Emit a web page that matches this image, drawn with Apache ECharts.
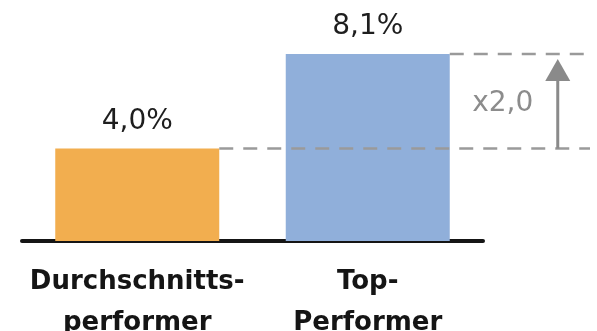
<!DOCTYPE html>
<html>
<head>
<meta charset="utf-8">
<script src="https://cdn.jsdelivr.net/npm/echarts@6/dist/echarts.min.js"></script>
<style>
  html, body { margin: 0; padding: 0; background: #ffffff; }
  #chart { width: 597px; height: 331px; }
</style>
</head>
<body>
<div id="chart"></div>
<script>
// Data
const categories = ['Durchschnitts-\nperformer', 'Top-\nPerformer'];
const values = [4.0, 8.1];
const barColors = ['#F2AE4F', '#90AFDA'];
const ratioLabel = 'x2,0';

const chart = echarts.init(document.getElementById('chart'), null, { renderer: 'canvas' });
const BAR_W = 164;

chart.setOption({
  animation: false,
  backgroundColor: '#ffffff',
  grid: { left: 22, right: 114, top: 10, bottom: 90, containLabel: false, outerBoundsMode: 'none' },
  xAxis: {
    type: 'category',
    data: categories,
    axisTick: { show: false },
    axisLine: { show: true, lineStyle: { color: '#151515', width: 4 } },
    axisLabel: {
      interval: 0,
      hideOverlap: false,
      margin: 21,
      color: '#151515',
      fontFamily: 'DejaVu Sans',
      fontWeight: 'bold',
      fontSize: 26,
      lineHeight: 41
    }
  },
  yAxis: {
    type: 'value', min: 0, max: 10,
    show: false, splitLine: { show: false }
  },
  series: [
    {
      type: 'bar',
      barWidth: BAR_W,
      data: values.map((v, i) => ({ value: v, itemStyle: { color: barColors[i] } })),
      label: {
        show: true,
        position: 'top',
        distance: 13,
        color: '#1e1e1e',
        fontFamily: 'DejaVu Sans',
        fontSize: 28,
        formatter: p => p.value.toFixed(1).replace('.', ',') + '%'
      },
      z: 2
    },
    {
      type: 'custom',
      clip: false,
      z: 3,
      encode: { x: 0, y: 1 },
      data: [[1, values[1], 0, values[0]]],
      renderItem: function (params, api) {
        const topC = api.coord([api.value(0), api.value(1)]);
        const lowC = api.coord([api.value(2), api.value(3)]);
        const half = BAR_W / 2;
        const xEnd = api.getWidth() - 7;
        const ax = topC[0] + 190;
        const dash = { stroke: '#9a9a9a', lineWidth: 2.5, lineDash: [14, 10] };
        return {
          type: 'group',
          children: [
            { type: 'line', shape: { x1: lowC[0] + half, y1: lowC[1], x2: xEnd, y2: lowC[1] }, style: dash },
            { type: 'line', shape: { x1: topC[0] + half, y1: topC[1], x2: xEnd, y2: topC[1] }, style: dash },
            { type: 'line', shape: { x1: ax, y1: lowC[1], x2: ax, y2: topC[1] + 24 }, style: { stroke: '#8a8a8a', lineWidth: 3 } },
            { type: 'polygon', shape: { points: [[ax, topC[1] + 5], [ax - 12.5, topC[1] + 27], [ax + 12.5, topC[1] + 27]] }, style: { fill: '#8a8a8a' } },
            {
              type: 'text',
              x: topC[0] + 135,
              y: (lowC[1] + topC[1]) / 2 + 2,
              style: {
                text: ratioLabel,
                fill: '#8c8c8c',
                fontFamily: 'DejaVu Sans',
                fontSize: 28,
                align: 'center',
                verticalAlign: 'middle'
              }
            }
          ]
        };
      }
    }
  ]
});
</script>
</body>
</html>
